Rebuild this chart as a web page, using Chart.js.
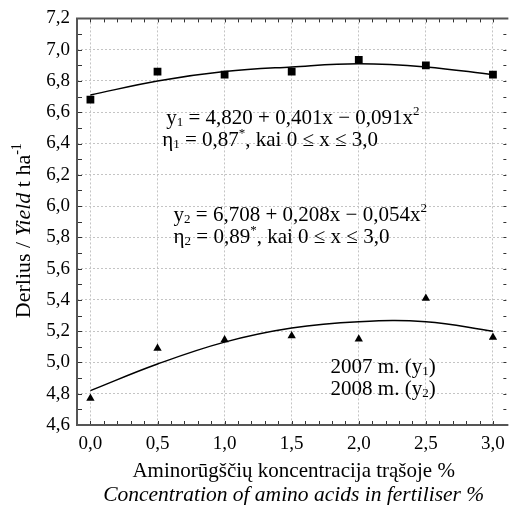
<!DOCTYPE html>
<html>
<head>
<meta charset="utf-8">
<script src="https://cdn.jsdelivr.net/npm/chart.js@4"></script>
<style>
  html, body { margin: 0; padding: 0; background: #fff; }
  #wrap { width: 513px; height: 505px; }
</style>
</head>
<body>
<div id="wrap"><canvas id="yieldChart"></canvas></div>
<script>
// --- DATA ---
const xValues = [0, 0.5, 1.0, 1.5, 2.0, 2.5, 3.0];
const yield2008 = [6.68, 6.86, 6.84, 6.86, 6.935, 6.90, 6.84];   // squares
const yield2007 = [4.77, 5.09, 5.145, 5.17, 5.15, 5.41, 5.16];   // triangles
// fitted curves
const fitTop = [6.71, 6.80, 6.86, 6.89, 6.91, 6.89, 6.84];
const fitBottom = [4.82, 4.99, 5.13, 5.22, 5.26, 5.26, 5.20];

const xTicks = [0, 0.5, 1.0, 1.5, 2.0, 2.5, 3.0];
const xTickLabels = ['0,0', '0,5', '1,0', '1,5', '2,0', '2,5', '3,0'];
const yTicks = [4.6, 4.8, 5.0, 5.2, 5.4, 5.6, 5.8, 6.0, 6.2, 6.4, 6.6, 6.8, 7.0, 7.2];
const yTickLabels = ['4,6', '4,8', '5,0', '5,2', '5,4', '5,6', '5,8', '6,0', '6,2', '6,4', '6,6', '6,8', '7,0', '7,2'];

const SERIF = '"Liberation Serif", "Times New Roman", serif';
const toPts = (ys) => ys.map((y, i) => ({ x: xValues[i], y: y }));

// --- TEXT HELPERS (sub / sup / italic runs) ---
function runFont(r, size) {
    const s = r.s ? Math.round(size * 0.62) : size;
    return (r.i ? 'italic ' : '') + s + 'px ' + SERIF;
}
function runsWidth(ctx, runs, size) {
    let w = 0;
    runs.forEach(r => { ctx.font = runFont(r, size); w += ctx.measureText(r.t).width; });
    return w;
}
function drawRuns(ctx, x, y, runs, size, align) {
    let cx = align === 'center' ? x - runsWidth(ctx, runs, size) / 2 : x;
    ctx.textBaseline = 'alphabetic';
    ctx.textAlign = 'left';
    runs.forEach(r => {
        ctx.font = runFont(r, size);
        let dy = 0;
        if (r.s === 'sub') dy = size * 0.1;
        if (r.s === 'sup') dy = -size * 0.42;
        ctx.fillText(r.t, cx, y + dy);
        cx += ctx.measureText(r.t).width;
    });
}

const notes = [
    { x: 0.565, y: 6.526, runs: [{ t: 'y' }, { t: '1', s: 'sub' }, { t: ' = 4,820 + 0,401x \u2212 0,091x' }, { t: '2', s: 'sup' }] },
    { x: 0.535, y: 6.386, runs: [{ t: '\u03b7' }, { t: '1', s: 'sub' }, { t: ' = 0,87' }, { t: '*', s: 'sup' }, { t: ', kai 0 \u2264 x \u2264 3,0' }] },
    { x: 0.62, y: 5.903, runs: [{ t: 'y' }, { t: '2', s: 'sub' }, { t: ' = 6,708 + 0,208x \u2212 0,054x' }, { t: '2', s: 'sup' }] },
    { x: 0.62, y: 5.763, runs: [{ t: '\u03b7' }, { t: '2', s: 'sub' }, { t: ' = 0,89' }, { t: '*', s: 'sup' }, { t: ', kai 0 \u2264 x \u2264 3,0' }] },
    { x: 1.79, y: 4.93, runs: [{ t: '2007 m. (y' }, { t: '1', s: 'sub' }, { t: ')' }] },
    { x: 1.79, y: 4.79, runs: [{ t: '2008 m. (y' }, { t: '2', s: 'sub' }, { t: ')' }] }
];

// frame, inward minor ticks, annotations and axis titles
const decorPlugin = {
    id: 'decor',
    afterDraw(chart) {
        const ctx = chart.ctx;
        const a = chart.chartArea;
        const xs = chart.scales.x, ys = chart.scales.y;
        ctx.save();
        // minor ticks every 0.1
        ctx.strokeStyle = '#333';
        ctx.lineWidth = 1;
        ctx.beginPath();
        for (let k = -1; k <= 31; k++) {
            const px = Math.round(xs.getPixelForValue(k / 10)) + 0.5;
            if (px < a.left || px > a.right) continue;
            ctx.moveTo(px, a.bottom); ctx.lineTo(px, a.bottom - 4);
            ctx.moveTo(px, a.top); ctx.lineTo(px, a.top + 4);
        }
        for (let k = 46; k <= 72; k++) {
            const py = Math.round(ys.getPixelForValue(k / 10)) + 0.5;
            ctx.moveTo(a.left, py); ctx.lineTo(a.left + 5, py);
            ctx.moveTo(a.right, py); ctx.lineTo(a.right - 3, py);
        }
        ctx.stroke();
        // frame (right side falls off the picture)
        ctx.strokeStyle = '#555';
        ctx.lineWidth = 2;
        ctx.beginPath();
        ctx.moveTo(a.right + 2, a.top); ctx.lineTo(a.left, a.top);
        ctx.lineTo(a.left, a.bottom); ctx.lineTo(a.right + 2, a.bottom);
        ctx.stroke();

        // annotations
        ctx.fillStyle = '#000';
        notes.forEach(n => drawRuns(ctx, xs.getPixelForValue(n.x), ys.getPixelForValue(n.y), n.runs, 21, 'left'));

        // x title (two lines)
        const cx = (a.left + a.right) / 2 + 2;
        drawRuns(ctx, cx, 477, [{ t: 'Aminor\u016bg\u0161\u010di\u0173 koncentracija tr\u0105\u0161oje %' }], 21, 'center');
        drawRuns(ctx, cx, 501, [{ t: 'Concentration of amino acids in fertiliser %', i: true }], 21.5, 'center');

        // y title (rotated)
        ctx.translate(30, (a.top + a.bottom) / 2 + 9);
        ctx.rotate(-Math.PI / 2);
        drawRuns(ctx, 0, 0, [{ t: 'Derlius / ' }, { t: 'Yield', i: true }, { t: ' t ha' }, { t: '-1', s: 'sup' }], 22, 'center');
        ctx.restore();
    }
};

const ctx = document.getElementById('yieldChart').getContext('2d');
const yieldChart = new Chart(ctx, {
    type: 'scatter',
    data: {
        datasets: [
            { label: 'fit top', data: toPts(fitTop), showLine: true, tension: 0.4, pointRadius: 0,
              borderColor: '#000', borderWidth: 1.5, fill: false },
            { label: 'fit bottom', data: toPts(fitBottom), showLine: true, tension: 0.4, pointRadius: 0,
              borderColor: '#000', borderWidth: 1.5, fill: false },
            { label: '2008', data: toPts(yield2008), pointStyle: 'rect', pointRadius: 5.5,
              backgroundColor: '#000', borderColor: '#000', borderWidth: 0 },
            { label: '2007', data: toPts(yield2007), pointStyle: 'triangle', pointRadius: 4.8,
              backgroundColor: '#000', borderColor: '#000', borderWidth: 0 }
        ]
    },
    options: {
        responsive: true,
        maintainAspectRatio: false,
        animation: false,
        layout: { padding: { top: 16, right: 0, left: 0, bottom: 0 } },
        plugins: { legend: { display: false }, tooltip: { enabled: false } },
        scales: {
            x: {
                type: 'linear', min: -0.1, max: 3.1,
                afterBuildTicks: (s) => { s.ticks = xTicks.map(v => ({ value: v })); },
                afterFit: (s) => { s.height = 80; },
                ticks: { callback: (v, i) => xTickLabels[i], color: '#000', padding: 8,
                         font: { family: SERIF, size: 19 } },
                grid: { color: '#c4c4c4', lineWidth: 1, drawTicks: false },
                border: { display: false, dash: [2, 2] }
            },
            y: {
                type: 'linear', min: 4.6, max: 7.2,
                afterBuildTicks: (s) => { s.ticks = yTicks.map(v => ({ value: v })); },
                afterFit: (s) => { s.width = 77; },
                ticks: { callback: (v, i) => yTickLabels[i], color: '#000', padding: 7,
                         font: { family: SERIF, size: 19 } },
                grid: { color: '#c4c4c4', lineWidth: 1, drawTicks: false },
                border: { display: false, dash: [2, 2] }
            }
        }
    },
    plugins: [decorPlugin]
});
</script>
</body>
</html>
